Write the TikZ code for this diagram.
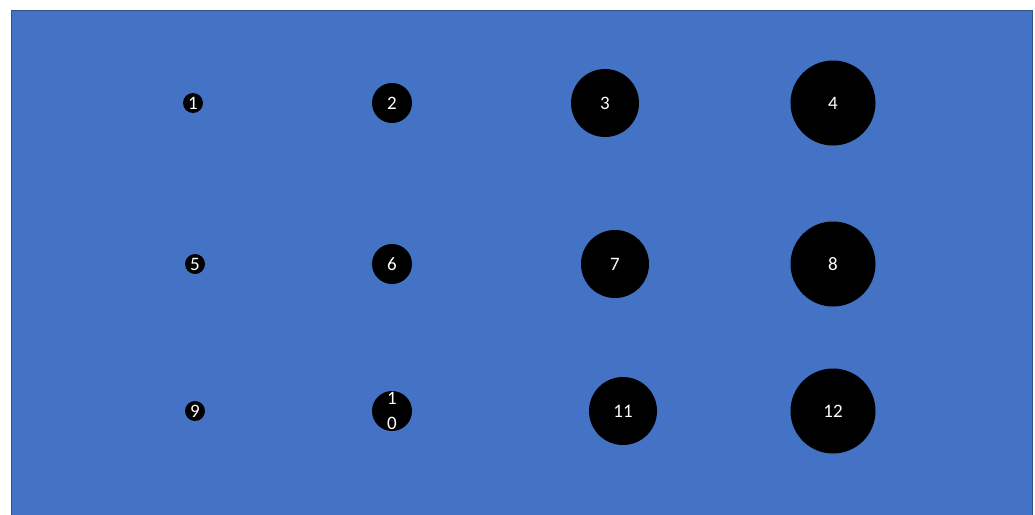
\documentclass[tikz,border=0pt]{standalone}
\usepackage{fontspec}
\setmainfont{Carlito}
\definecolor{bgblue}{HTML}{4472C4}
\definecolor{edgeblue}{HTML}{2F528F}
\begin{document}
\begin{tikzpicture}[x=1pt,y=-1pt,
  dot/.style={circle,fill=black,text=white,inner sep=0pt,minimum size=#1,font=\fontsize{19}{23}\selectfont},
  dotlabel/.style={text=white,font=\fontsize{19}{25}\selectfont,align=center,inner sep=0pt}]
\useasboundingbox (0,0) rectangle (1035,514);
\draw[fill=bgblue,draw=edgeblue,line width=1pt] (11,10) rectangle (1032,520);
\node[dot=20pt] (n1) at (193,103) {1};
\node[dot=40pt] (n2) at (392,103) {2};
\node[dot=68pt] (n3) at (605,103) {3};
\node[dot=85pt] (n4) at (833,103) {4};
\node[dot=20pt] (n5) at (195,264) {5};
\node[dot=40pt] (n6) at (392,264) {6};
\node[dot=68pt] (n7) at (615,264) {7};
\node[dot=85pt] (n8) at (833,264) {8};
\node[dot=20pt] (n9) at (195,411) {9};
\node[dot=40pt] (n10) at (392,411) {};
\node[dotlabel] (l10) at (392,411) {1\\0};
\node[dot=68pt] (n11) at (623,411) {11};
\node[dot=85pt] (n12) at (833,411) {12};
\end{tikzpicture}
\end{document}
